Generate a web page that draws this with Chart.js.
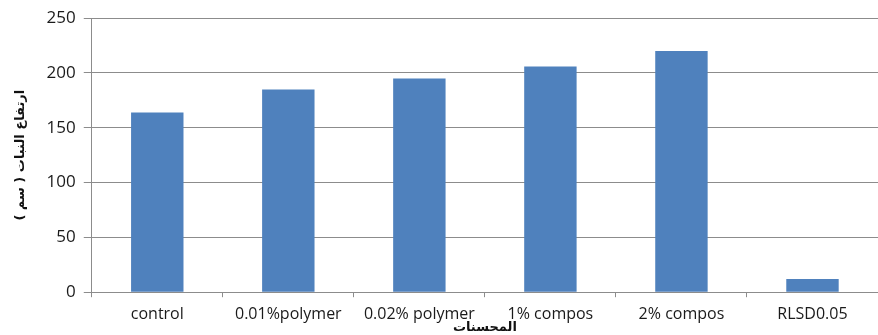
<!DOCTYPE html>
<html>
<head>
<meta charset="utf-8">
<script src="https://cdn.jsdelivr.net/npm/chart.js@4/dist/chart.umd.min.js"></script>
<style>
  html, body { margin: 0; padding: 0; background: #fff; }
  #wrap { width: 878px; height: 335px; }
</style>
</head>
<body>
<div id="wrap"><canvas id="c" width="878" height="335"></canvas></div>
<script>
// Plant height (cm) by soil amendment treatment
const treatments = ['control', '0.01%polymer', '0.02% polymer', '1% compos', '2% compos', 'RLSD0.05'];
const plantHeight = [164, 185, 195, 206, 220, 12];
const yTicks = [0, 50, 100, 150, 200, 250];
const yTitle = 'ارتفاع النبات ( سم )';
const xTitle = 'المحسنات';

const labelFont = "'Open Sans', Lato, 'DejaVu Sans', sans-serif";
const arabicFont = "'DejaVu Sans', 'Noto Sans', sans-serif";

new Chart(document.getElementById('c'), {
  type: 'bar',
  data: {
    labels: treatments,
    datasets: [{
      data: plantHeight,
      backgroundColor: '#4f81bd',
      borderWidth: 0,
      categoryPercentage: 1.0,
      barPercentage: 0.4
    }]
  },
  options: {
    responsive: false,
    animation: false,
    layout: { padding: { top: 16, right: 0, left: 13, bottom: 0 } },
    plugins: { legend: { display: false }, tooltip: { enabled: false } },
    scales: {
      x: {
        grid: { drawOnChartArea: false, drawTicks: true, tickLength: 5, color: '#8c8c8c' },
        border: { display: true, color: '#8c8c8c', width: 1 },
        ticks: { color: '#1a1a1a', font: { family: labelFont, size: 16 }, padding: 8, maxRotation: 0, autoSkip: false },
        title: {
          display: true, text: xTitle, color: '#111',
          font: { family: arabicFont, size: 13, weight: 'bold' },
          padding: { top: -13, bottom: 0 }
        }
      },
      y: {
        min: 0, max: 250,
        afterBuildTicks: (axis) => { axis.ticks = yTicks.map(v => ({ value: v })); },
        grid: { color: '#8c8c8c', lineWidth: 1, drawTicks: true, tickLength: 8 },
        border: { display: true, color: '#8c8c8c', width: 1 },
        ticks: { color: '#1a1a1a', font: { family: labelFont, size: 17 }, padding: 8 },
        title: {
          display: true, text: yTitle, color: '#111',
          font: { family: arabicFont, size: 13, weight: 'bold' },
          padding: { top: 0, bottom: 10 }
        }
      }
    }
  }
});
</script>
</body>
</html>
